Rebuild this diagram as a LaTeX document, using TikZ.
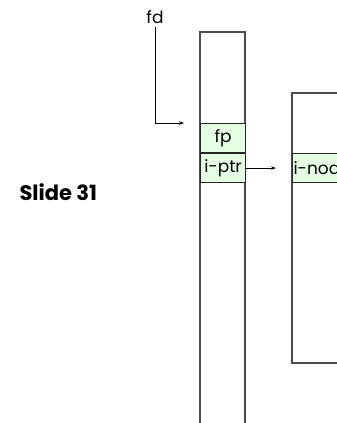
\documentclass[tikz,border=0pt]{standalone}
\usepackage{fontspec}
\setmainfont{Poppins}
\usetikzlibrary{positioning,arrows.meta,calc}

\begin{document}
\begin{tikzpicture}[x=1pt,y=-1pt,font=\fontsize{17}{19}\selectfont,
  wall/.style={draw=black!70,line width=1.3pt},
  slot/.style={draw=black!85,fill=green!10,line width=1.1pt,minimum width=45pt,
    minimum height=29pt,inner sep=0pt,anchor=north west},
  ptr/.style={-{Stealth[length=5pt,width=3.5pt]},line width=0.7pt}]
  \useasboundingbox (0,0) rectangle (337,423);
  \clip (0,0) rectangle (337,423);
  % file table column, open at the bottom
  \draw[wall] (200,423) -- (200,32) -- (245,32) -- (245,423);
  \node[slot] (fp) at (200,123) {fp};
  \node[slot] (iptr) at (200,153) {i-ptr};
  % i-node table, cut off at the right
  \draw[wall] (340,93) -- (292,93) -- (292,363) -- (340,363);
  \node[slot,minimum width=60pt,text width=58pt,align=left,inner xsep=1pt] (inode) at (292,153) {i-node};
  % labels
  \node (fd) at (155,17) {fd};
  \node[font=\fontsize{21}{23}\selectfont\bfseries,anchor=west] (slide) at (16,192) {Slide 31};
  % pointers
  \coordinate (fdtip) at (184,123);
  \draw[ptr] (fd.south) |- (fdtip);
  \draw[ptr,shorten >=16pt] (iptr.east) -- (inode.west);
\end{tikzpicture}
\end{document}
